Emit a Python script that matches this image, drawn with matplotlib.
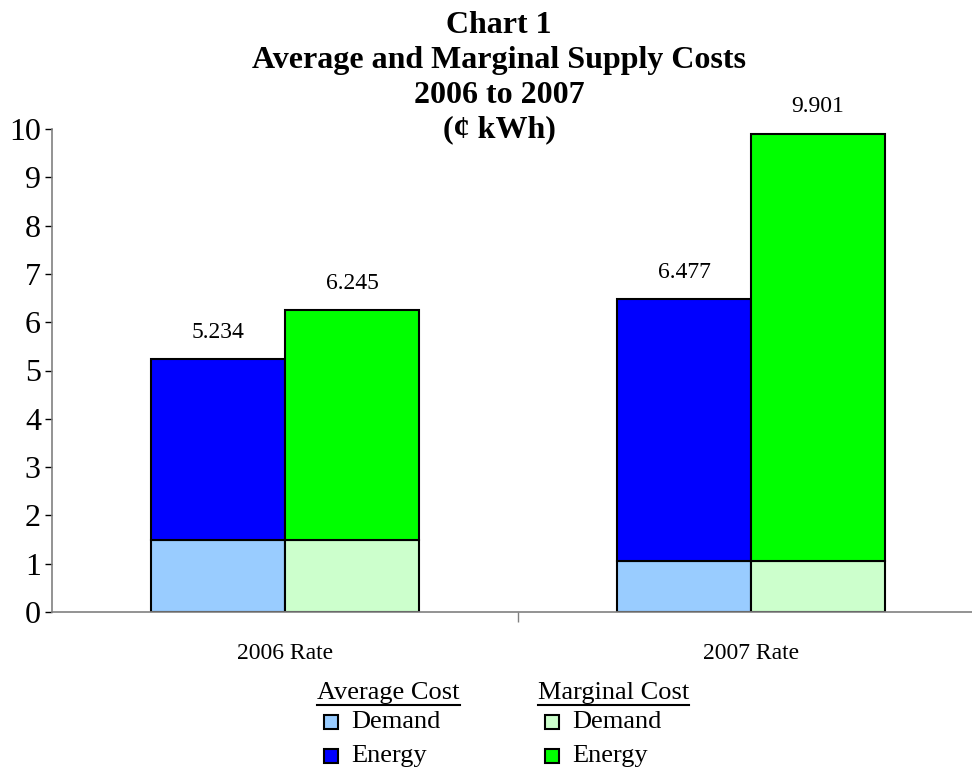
import matplotlib
matplotlib.use("Agg")
import matplotlib.pyplot as plt
from matplotlib.patches import Rectangle
from matplotlib.lines import Line2D
import numpy as np

plt.rcParams['font.family'] = ['Liberation Serif', 'DejaVu Serif']

# Data (cents per kWh)
categories = ["2006 Rate", "2007 Rate"]
avg_demand = [1.50, 1.05]
avg_total = [5.234, 6.477]
marg_demand = [1.50, 1.05]
marg_total = [6.245, 9.901]
yticks = list(range(0, 11))

avg_energy = [t - d for t, d in zip(avg_total, avg_demand)]
marg_energy = [t - d for t, d in zip(marg_total, marg_demand)]

col_avg_demand = "#99CCFF"
col_avg_energy = "#0000FF"
col_marg_demand = "#CCFFCC"
col_marg_energy = "#00FF00"

W, H = 972, 771
fig = plt.figure(figsize=(W / 100, H / 100), dpi=100)
ax = fig.add_axes([52 / W, 1 - 612 / H, 920 / W, (612 - 129) / H])

x = np.array([0.5, 1.5])
bw = 0.2876
edge = dict(edgecolor="black", linewidth=1.5)

ax.bar(x - bw / 2, avg_demand, bw, color=col_avg_demand, **edge)
ax.bar(x - bw / 2, avg_energy, bw, bottom=avg_demand, color=col_avg_energy, **edge)
ax.bar(x + bw / 2, marg_demand, bw, color=col_marg_demand, **edge)
ax.bar(x + bw / 2, marg_energy, bw, bottom=marg_demand, color=col_marg_energy, **edge)

for xs, tots in ((x - bw / 2, avg_total), (x + bw / 2, marg_total)):
    for xi, t in zip(xs, tots):
        ax.annotate(f"{t:.3f}", (xi, t), xytext=(0, 19.5), textcoords="offset points",
                    ha="center", va="center", fontsize=17)

ax.set_xlim(0, 920 / 466)
ax.set_ylim(0, 10)
ax.set_yticks(yticks)
ax.set_yticklabels([str(v) for v in yticks], fontsize=23)
ax.tick_params(axis="y", direction="out", length=5, width=1, pad=3, color="black")

ax.set_xticks([1.0])
ax.set_xticklabels([""])
ax.tick_params(axis="x", which="major", direction="out", length=7, width=1, color="#808080")
ax.set_xticks(x, minor=True)
ax.set_xticklabels(categories, minor=True, fontsize=17)
ax.tick_params(axis="x", which="minor", length=0, pad=22)

for s in ("top", "right"):
    ax.spines[s].set_visible(False)
for s in ("left", "bottom"):
    ax.spines[s].set_color("#808080")
    ax.spines[s].set_linewidth(1.2)

fig.text(499 / W, 1 - 78 / H, "Chart 1\nAverage and Marginal Supply Costs\n2006 to 2007\n(¢ kWh)",
         ha="center", va="center", fontsize=23, fontweight="bold", linespacing=1.26)

# Legend drawn in figure pixel coordinates
def fx(px):
    return px / W

def fy(py):
    return 1 - py / H

groups = [
    ("Average Cost", 317, [("Demand", col_avg_demand), ("Energy", col_avg_energy)]),
    ("Marginal Cost", 538, [("Demand", col_marg_demand), ("Energy", col_marg_energy)]),
]
row_y = [722, 756]
fig.canvas.draw()
renderer = fig.canvas.get_renderer()
for header, left, entries in groups:
    t = fig.text(fx(left), fy(693), header, ha="left", va="center", fontsize=19)
    bb = t.get_window_extent(renderer)
    fig.add_artist(Line2D([bb.x0 / W, bb.x1 / W], [fy(705), fy(705)],
                          transform=fig.transFigure, color="black", linewidth=1.5))
    for (lab, col), ry in zip(entries, row_y):
        fig.add_artist(Rectangle((fx(left + 7), fy(ry + 7)), 14 / W, 14 / H,
                                 transform=fig.transFigure, facecolor=col,
                                 edgecolor="black", linewidth=1.5))
        fig.text(fx(left + 34), fy(ry), lab, ha="left", va="center", fontsize=19)

fig.savefig("out.png", dpi=100)
